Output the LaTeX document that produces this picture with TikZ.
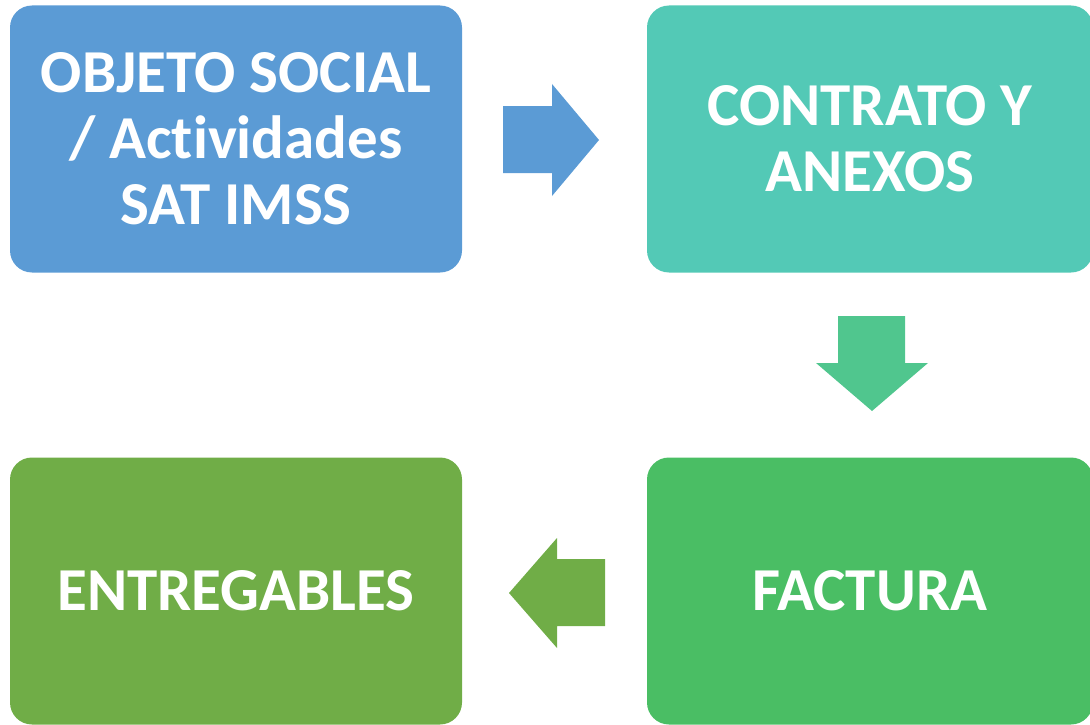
\documentclass[tikz,border=0pt]{standalone}
\usepackage{fontspec}
\setmainfont{Carlito}[Ligatures=NoCommon]
\usetikzlibrary{positioning}

\definecolor{objblue}{HTML}{5B9BD5}
\definecolor{contteal}{HTML}{53C9B6}
\definecolor{downgreen}{HTML}{50C68E}
\definecolor{factgreen}{HTML}{4ABE64}
\definecolor{entgreen}{HTML}{70AD47}

\begin{document}
\begin{tikzpicture}[
    x=1pt, y=-1pt,
    block/.style={rounded corners=22pt, inner sep=0pt, align=center,
      minimum width=452pt, minimum height=267pt,
      text=white, font=\fontsize{61}{66}\selectfont\bfseries}
    ]
    \useasboundingbox (0,0) rectangle (1090,725);

    % boxes:
    \node (obj)  at (236,139) [block, fill=objblue] {OBJETO SOCIAL\\/ Actividades\\SAT IMSS};
    \node (con)  at (870,139) [block, fill=contteal, minimum width=446pt] {CONTRATO Y\\ANEXOS};
    \node (fact) at (870,591) [block, fill=factgreen, minimum width=446pt] {FACTURA};
    \node (ent)  at (236,591) [block, fill=entgreen] {ENTREGABLES};

    % arrows:
    \fill[objblue] (503,106) -- (552,106) -- (552,84) -- (599,140)
      -- (552,196) -- (552,173) -- (503,173) -- cycle;
    \fill[downgreen] (838,316) -- (905,316) -- (905,363) -- (928,363)
      -- (872,411) -- (816,363) -- (838,363) -- cycle;
    \fill[entgreen] (605,559) -- (557,559) -- (557,538) -- (509,593)
      -- (557,648) -- (557,626) -- (605,626) -- cycle;

\end{tikzpicture}
\end{document}
